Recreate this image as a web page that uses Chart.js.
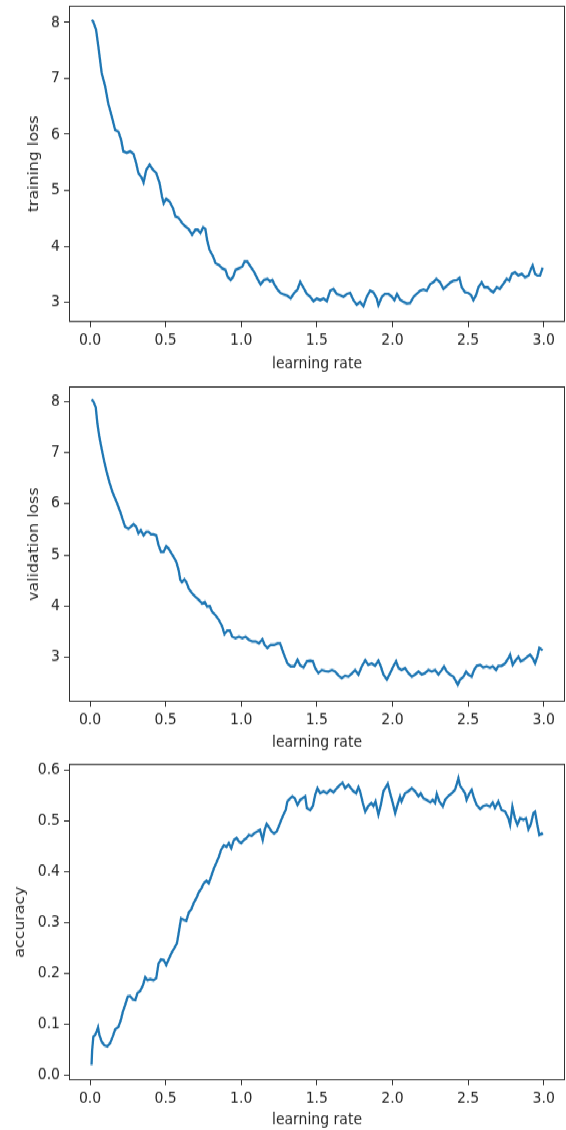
<!DOCTYPE html>
<html>
<head>
<meta charset="utf-8">
<script src="https://cdn.jsdelivr.net/npm/chart.js@4"></script>
<style>
  html, body { margin: 0; padding: 0; background: #fff; }
  #page { position: relative; width: 566px; height: 1130px; }
  /* the reference figure is stretched a little vertically, so stretch the charts the same way */
  #wrap { position: absolute; left: 0; top: 0; width: 566px; height: 1000px; transform: scaleY(1.13); transform-origin: 0 0; }
  canvas { position: absolute; left: 0; }
</style>
</head>
<body>
<div id="page">
  <div id="wrap">
    <canvas id="trainChart" width="566" height="335" style="top:0"></canvas>
    <canvas id="valChart" width="566" height="334" style="top:335px"></canvas>
    <canvas id="accChart" width="566" height="331" style="top:669px"></canvas>
  </div>
</div>
<script>
/* ---- data ---- */
const lrTicks = [0, 0.5, 1.0, 1.5, 2.0, 2.5, 3.0];
const lrRange = [-0.139, 3.141];

const lossTicks = [3, 4, 5, 6, 7, 8];
const accTicks = [0, 0.1, 0.2, 0.3, 0.4, 0.5, 0.6];
const trainRange = [2.65, 8.30];
const valRange = [2.13, 8.29];
const accRange = [-0.01, 0.613];

const trainLr = [
  0.01, 0.02, 0.04, 0.055, 0.077, 0.1, 0.12, 0.144, 0.166, 0.188,
  0.206, 0.22, 0.243, 0.265, 0.288, 0.305, 0.32, 0.343, 0.354, 0.372,
  0.394, 0.416, 0.438, 0.46, 0.476, 0.487, 0.504, 0.527, 0.549, 0.564,
  0.586, 0.608, 0.63, 0.653, 0.675, 0.697, 0.712, 0.73, 0.748, 0.763,
  0.774, 0.79, 0.814, 0.83, 0.852, 0.874, 0.896, 0.91, 0.93, 0.947,
  0.962, 0.985, 1.007, 1.022, 1.04, 1.062, 1.084, 1.106, 1.128, 1.15,
  1.173, 1.19, 1.206, 1.22, 1.24, 1.26, 1.283, 1.305, 1.327, 1.35,
  1.372, 1.39, 1.41, 1.434, 1.456, 1.478, 1.5, 1.522, 1.544, 1.566,
  1.588, 1.61, 1.632, 1.654, 1.676, 1.698, 1.72, 1.742, 1.764, 1.786,
  1.808, 1.83, 1.852, 1.874, 1.896, 1.907, 1.93, 1.95, 1.974, 1.996,
  2.013, 2.03, 2.05, 2.073, 2.095, 2.117, 2.14, 2.16, 2.183, 2.205,
  2.227, 2.25, 2.27, 2.29, 2.315, 2.337, 2.36, 2.38, 2.403, 2.425,
  2.443, 2.458, 2.48, 2.502, 2.52, 2.535, 2.553, 2.568, 2.59, 2.608,
  2.63, 2.652, 2.667, 2.69, 2.71, 2.733, 2.755, 2.773, 2.79, 2.81,
  2.832, 2.855, 2.877, 2.9, 2.916, 2.927, 2.943, 2.958, 2.976, 2.987,
  2.993
];
const trainLoss = [
  8.04, 8.02, 7.87, 7.57, 7.1, 6.86, 6.56, 6.32, 6.08, 6.05,
  5.9, 5.7, 5.67, 5.7, 5.65, 5.49, 5.31, 5.22, 5.14, 5.37,
  5.46, 5.37, 5.31, 5.13, 4.89, 4.77, 4.85, 4.8, 4.68, 4.54,
  4.51, 4.42, 4.36, 4.31, 4.21, 4.3, 4.3, 4.24, 4.34, 4.31,
  4.12, 3.94, 3.82, 3.7, 3.67, 3.61, 3.58, 3.46, 3.4, 3.46,
  3.58, 3.61, 3.64, 3.73, 3.73, 3.64, 3.55, 3.43, 3.32, 3.4,
  3.42, 3.38, 3.4, 3.32, 3.23, 3.17, 3.14, 3.12, 3.07, 3.17,
  3.23, 3.37, 3.27, 3.15, 3.1, 3.02, 3.07, 3.04, 3.07, 3.02,
  3.21, 3.24, 3.15, 3.13, 3.1, 3.15, 3.17, 3.04, 2.96, 3.01,
  2.93, 3.1, 3.21, 3.18, 3.07, 2.95, 3.1, 3.15, 3.15, 3.1,
  3.04, 3.15, 3.05, 3.01, 2.98, 2.99, 3.1, 3.15, 3.21, 3.23,
  3.21, 3.33, 3.36, 3.42, 3.36, 3.24, 3.3, 3.35, 3.39, 3.4,
  3.44, 3.27, 3.18, 3.17, 3.13, 3.04, 3.13, 3.27, 3.36, 3.27,
  3.27, 3.21, 3.18, 3.27, 3.24, 3.33, 3.42, 3.39, 3.51, 3.54,
  3.48, 3.51, 3.45, 3.48, 3.6, 3.66, 3.51, 3.48, 3.48, 3.57,
  3.62
];

const valLr = [
  0.01, 0.022, 0.038, 0.049, 0.062, 0.077, 0.093, 0.11, 0.128, 0.148,
  0.166, 0.18, 0.2, 0.217, 0.232, 0.254, 0.27, 0.288, 0.305, 0.32,
  0.336, 0.354, 0.372, 0.387, 0.403, 0.42, 0.438, 0.453, 0.469, 0.487,
  0.504, 0.52, 0.538, 0.553, 0.571, 0.586, 0.597, 0.608, 0.624, 0.637,
  0.653, 0.675, 0.697, 0.719, 0.741, 0.759, 0.774, 0.792, 0.807, 0.83,
  0.852, 0.874, 0.889, 0.907, 0.925, 0.94, 0.962, 0.985, 1.007, 1.029,
  1.05, 1.073, 1.095, 1.117, 1.14, 1.155, 1.173, 1.195, 1.217, 1.24,
  1.257, 1.272, 1.288, 1.305, 1.327, 1.35, 1.372, 1.39, 1.412, 1.434,
  1.456, 1.474, 1.489, 1.51, 1.533, 1.555, 1.577, 1.6, 1.62, 1.643,
  1.665, 1.687, 1.709, 1.731, 1.753, 1.775, 1.797, 1.82, 1.84, 1.863,
  1.885, 1.907, 1.923, 1.94, 1.963, 1.985, 2.007, 2.024, 2.04, 2.06,
  2.083, 2.105, 2.128, 2.15, 2.172, 2.194, 2.216, 2.238, 2.26, 2.282,
  2.304, 2.326, 2.341, 2.359, 2.38, 2.403, 2.42, 2.432, 2.447, 2.47,
  2.487, 2.502, 2.524, 2.54, 2.557, 2.58, 2.6, 2.623, 2.645, 2.663,
  2.685, 2.7, 2.722, 2.745, 2.767, 2.778, 2.795, 2.81, 2.833, 2.848,
  2.87, 2.892, 2.91, 2.927, 2.943, 2.958, 2.971, 2.982, 2.993
];
const valLoss = [
  8.03, 8.0, 7.88, 7.56, 7.3, 7.07, 6.84, 6.62, 6.42, 6.23,
  6.1, 6.0, 5.84, 5.68, 5.55, 5.51, 5.55, 5.6, 5.55, 5.42,
  5.48, 5.38, 5.45, 5.45, 5.4, 5.4, 5.38, 5.19, 5.06, 5.06,
  5.17, 5.12, 5.03, 4.96, 4.86, 4.7, 4.51, 4.47, 4.52, 4.47,
  4.34, 4.25, 4.18, 4.12, 4.05, 4.08, 3.99, 4.0, 3.89, 3.82,
  3.73, 3.6, 3.45, 3.52, 3.52, 3.4, 3.37, 3.4, 3.37, 3.4,
  3.34, 3.31, 3.31, 3.27, 3.35, 3.24, 3.18, 3.24, 3.24, 3.27,
  3.27, 3.14, 3.01, 2.88, 2.82, 2.82, 2.95, 2.84, 2.8, 2.92,
  2.93, 2.92, 2.79, 2.69, 2.75, 2.73, 2.72, 2.75, 2.72, 2.64,
  2.59, 2.64, 2.62, 2.68, 2.75, 2.66, 2.82, 2.94, 2.85, 2.88,
  2.83, 2.93, 2.82, 2.66, 2.56, 2.69, 2.83, 2.92, 2.79, 2.75,
  2.79, 2.69, 2.62, 2.66, 2.72, 2.66, 2.69, 2.75, 2.72, 2.75,
  2.66, 2.75, 2.82, 2.72, 2.66, 2.62, 2.53, 2.46, 2.56, 2.62,
  2.72, 2.66, 2.62, 2.75, 2.83, 2.85, 2.8, 2.82, 2.79, 2.82,
  2.75, 2.83, 2.83, 2.88, 2.98, 3.05, 2.85, 2.92, 3.01, 2.92,
  2.95, 3.01, 3.05, 2.98, 2.88, 3.01, 3.18, 3.16, 3.13
];

const accLr = [
  0.01, 0.014, 0.022, 0.033, 0.044, 0.053, 0.062, 0.077, 0.095, 0.115,
  0.133, 0.15, 0.166, 0.188, 0.204, 0.217, 0.232, 0.25, 0.265, 0.283,
  0.3, 0.314, 0.332, 0.35, 0.365, 0.38, 0.398, 0.42, 0.438, 0.453,
  0.469, 0.487, 0.504, 0.52, 0.538, 0.557, 0.575, 0.588, 0.602, 0.62,
  0.637, 0.653, 0.67, 0.686, 0.704, 0.719, 0.737, 0.752, 0.77, 0.785,
  0.801, 0.819, 0.834, 0.852, 0.867, 0.885, 0.903, 0.918, 0.934, 0.951,
  0.969, 0.985, 1.0, 1.018, 1.035, 1.05, 1.069, 1.084, 1.106, 1.124,
  1.142, 1.155, 1.168, 1.184, 1.2, 1.217, 1.235, 1.25, 1.261, 1.279,
  1.294, 1.305, 1.323, 1.338, 1.354, 1.372, 1.39, 1.405, 1.423, 1.434,
  1.456, 1.474, 1.489, 1.504, 1.522, 1.544, 1.566, 1.588, 1.61, 1.632,
  1.654, 1.67, 1.687, 1.709, 1.725, 1.742, 1.76, 1.775, 1.786, 1.804,
  1.82, 1.84, 1.86, 1.874, 1.888, 1.907, 1.923, 1.94, 1.958, 1.969,
  1.985, 2.002, 2.018, 2.033, 2.05, 2.06, 2.083, 2.105, 2.128, 2.15,
  2.172, 2.187, 2.205, 2.227, 2.25, 2.266, 2.282, 2.293, 2.31, 2.333,
  2.348, 2.37, 2.392, 2.414, 2.43, 2.436, 2.447, 2.465, 2.48, 2.49,
  2.509, 2.524, 2.54, 2.557, 2.58, 2.6, 2.623, 2.645, 2.663, 2.678,
  2.7, 2.722, 2.745, 2.767, 2.778, 2.793, 2.81, 2.826, 2.844, 2.866,
  2.883, 2.899, 2.914, 2.932, 2.943, 2.958, 2.971, 2.987, 2.993
];
const accuracy = [
  0.02, 0.049, 0.076, 0.079, 0.086, 0.094, 0.079, 0.066, 0.059, 0.057,
  0.063, 0.076, 0.09, 0.095, 0.109, 0.125, 0.138, 0.155, 0.156, 0.149,
  0.148, 0.162, 0.166, 0.177, 0.193, 0.187, 0.189, 0.187, 0.191, 0.22,
  0.228, 0.227, 0.217, 0.228, 0.24, 0.25, 0.26, 0.283, 0.309, 0.306,
  0.304, 0.32, 0.327, 0.339, 0.349, 0.36, 0.368, 0.378, 0.383, 0.378,
  0.391, 0.407, 0.417, 0.43, 0.444, 0.453, 0.45, 0.457, 0.447, 0.463,
  0.467, 0.46, 0.457, 0.463, 0.467, 0.473, 0.471, 0.476, 0.48, 0.483,
  0.463, 0.483, 0.495, 0.488, 0.48, 0.476, 0.48, 0.491, 0.5, 0.513,
  0.522, 0.539, 0.545, 0.549, 0.545, 0.532, 0.542, 0.545, 0.549, 0.526,
  0.522, 0.53, 0.552, 0.565, 0.555, 0.559, 0.555, 0.562, 0.557, 0.565,
  0.572, 0.576, 0.565, 0.572, 0.565, 0.559, 0.555, 0.567, 0.559, 0.536,
  0.519, 0.53, 0.536, 0.53, 0.539, 0.513, 0.532, 0.559, 0.568, 0.574,
  0.555, 0.536, 0.516, 0.532, 0.549, 0.539, 0.555, 0.559, 0.565, 0.559,
  0.549, 0.555, 0.545, 0.542, 0.537, 0.542, 0.536, 0.554, 0.539, 0.529,
  0.542, 0.55, 0.555, 0.562, 0.578, 0.585, 0.57, 0.562, 0.555, 0.542,
  0.555, 0.562, 0.545, 0.532, 0.524, 0.53, 0.532, 0.529, 0.537, 0.526,
  0.539, 0.522, 0.519, 0.506, 0.493, 0.529, 0.506, 0.493, 0.506, 0.503,
  0.506, 0.484, 0.493, 0.516, 0.519, 0.493, 0.473, 0.476, 0.473
];

/* ---- shared look ---- */
const BLUE = '#1f77b4';
const AXIS = '#333';
const TEXT = '#262626';
const FONT = { family: 'DejaVu Sans', size: 14 };

// full box around the plot, like matplotlib's four spines
const frame = {
  id: 'frame',
  afterDraw(chart) {
    const { ctx, chartArea: a } = chart;
    ctx.save();
    ctx.strokeStyle = AXIS;
    ctx.lineWidth = 1;
    ctx.strokeRect(a.left + 0.5, a.top + 0.5, a.right - a.left - 1, a.bottom - a.top - 1);
    ctx.restore();
  },
};

function lineChart(id, lrs, vals, yRange, yTicks, yTitle, fmtY, box) {
  const grid = (len) => ({ display: true, drawOnChartArea: false, drawTicks: true, tickLength: len, color: AXIS, lineWidth: 1 });
  return new Chart(document.getElementById(id), {
    type: 'line',
    data: {
      datasets: [{
        data: lrs.map((x, i) => ({ x, y: vals[i] })),
        borderColor: BLUE,
        borderWidth: 2.3,
        pointRadius: 0,
        tension: 0,
        fill: false,
      }],
    },
    options: {
      responsive: false,
      animation: false,
      layout: { autoPadding: false, padding: { top: box.padTop, right: 1, bottom: 0, left: 0 } },
      plugins: { legend: { display: false }, tooltip: { enabled: false } },
      scales: {
        x: {
          type: 'linear', min: lrRange[0], max: lrRange[1],
          afterBuildTicks: (s) => { s.ticks = lrTicks.map((v) => ({ value: v })); },
          // fixed axis size, and no extra room for labels hanging over the ends
          afterFit: (s) => { s.height = box.xHeight; s.paddingLeft = 0; s.paddingRight = 0; },
          ticks: { callback: (v) => v.toFixed(1), font: FONT, color: TEXT, padding: 3, maxRotation: 0, autoSkip: false },
          grid: grid(4.5),
          border: { display: false },
          title: { display: true, text: 'learning rate', font: FONT, color: TEXT, padding: { top: 0, bottom: box.xTitlePad } },
        },
        y: {
          type: 'linear', min: yRange[0], max: yRange[1],
          afterBuildTicks: (s) => { s.ticks = yTicks.map((v) => ({ value: v })); },
          afterFit: (s) => { s.width = 69; s.paddingTop = 0; s.paddingBottom = 0; },
          ticks: { callback: fmtY, font: FONT, color: TEXT, padding: 4, autoSkip: false },
          grid: grid(5),
          border: { display: false },
          title: { display: true, text: yTitle, font: FONT, color: TEXT, padding: { top: box.yTitlePad, bottom: 0 } },
        },
      },
    },
    plugins: [frame],
  });
}

lineChart('trainChart', trainLr, trainLoss, trainRange, lossTicks, 'training loss', (v) => String(v),
  { padTop: 5, xHeight: 50, xTitlePad: 4.5, yTitlePad: 26 });
lineChart('valChart', valLr, valLoss, valRange, lossTicks, 'validation loss', (v) => String(v),
  { padTop: 7, xHeight: 48, xTitlePad: 3, yTitlePad: 26 });
lineChart('accChart', accLr, accuracy, accRange, accTicks, 'accuracy', (v) => v.toFixed(1),
  { padTop: 7, xHeight: 44, xTitlePad: 0, yTitlePad: 12 });
</script>
</body>
</html>
